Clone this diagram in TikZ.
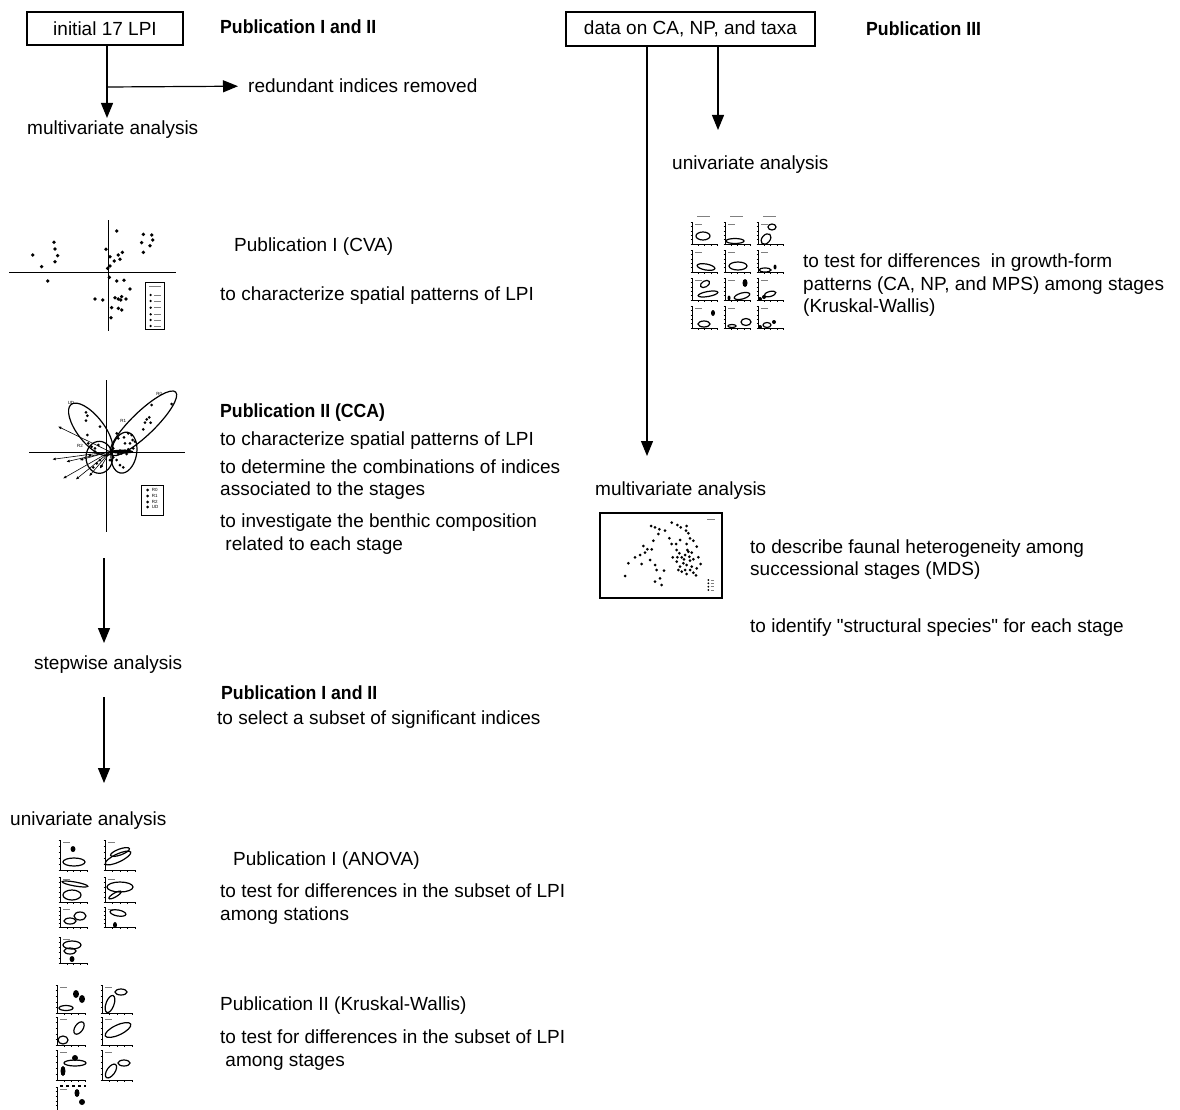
\documentclass[tikz,border=0pt]{standalone}
\usepackage{fontspec}
\usepackage{graphicx}
\setmainfont{Liberation Sans}[Ligatures=TeXOff]
\usetikzlibrary{arrows.meta}
\newcommand\mplot[4]{%
  \draw[line width=0.8pt] (#1,#2) -- (#1,#2+#4) -- (#1+#3,#2+#4);
  \foreach \k in {0,1,2,3,4,5} {\draw[line width=0.5pt] (#1-1.5,#2+\k*#4/5) -- (#1,#2+\k*#4/5);}
  \foreach \k in {1,2,3,4} {\draw[line width=0.5pt] (#1+\k*#3/4,#2+#4) -- (#1+\k*#3/4,#2+#4+1.5);}
  \draw[gray,line width=0.6pt] (#1+3,#2+2) -- (#1+10,#2+2);
}
\newcommand\blob[5]{\draw[line width=1.2pt,rotate around={#5:(#1,#2)}] (#1,#2) ellipse [x radius=#3, y radius=#4];}
\newcommand\dotb[4]{\fill (#1,#2) ellipse [x radius=#3, y radius=#4];}
\begin{document}
\begin{tikzpicture}[x=1pt,y=-1pt,
  tx/.style={anchor=base west,inner sep=0pt,font=\fontsize{19}{22.5}\selectfont},
  pb/.style={anchor=base west,inner sep=0pt,font=\fontsize{19}{22.5}\selectfont\bfseries},
  boxn/.style={draw,line width=1.1pt,inner sep=0pt,font=\fontsize{19}{22.5}\selectfont},
  flow/.style={line width=1.2pt,-{Triangle[length=15pt,width=12pt]}},
  ax/.style={line width=1pt},
  thin/.style={line width=0.6pt}
]
\useasboundingbox[fill=white] (0,0) rectangle (1180,1110);

% ---------------- left column ----------------
\node[boxn,minimum width=156pt,minimum height=33pt] (initA) at (105,28.5) {initial 17 LPI};
\node[pb] (pubA) at (220,34) {\scalebox{0.93}[1]{Publication I and II}};
\node[tx] (redund) at (248,93) {redundant indices removed};
\node[tx] (multiA) at (27,135) {multivariate analysis};
\coordinate (j1) at (107,87);
\coordinate (m1top) at (107,118);
\draw[flow] (initA.south -| j1) -- (m1top);
\draw[flow] (j1) -- ([xshift=-10pt]redund.west);

% CVA plot
\begin{scope}[shift={(0,220)},x=0.33333pt,y=-0.33333pt]
  \draw[ax] (28,157) -- (527,157);
  \draw[ax] (325,0) -- (325,332);
  \foreach \p in {(350,33),(430,43),(455,45),(458,60),(425,68),(450,77),(430,97),
    (162,67),(165,87),(173,107),(98,105),(165,125),(125,140),(143,183),
    (318,88),(330,110),(355,105),(367,97),(360,118),(343,123),(330,138),(323,145),
    (328,172),(350,183),(372,181),(390,207),(285,237),(308,240),(345,233),(355,237),
    (365,230),(378,237),(362,240),(335,263),(355,265),(365,270),(333,293)}
    \fill \p circle (1.9pt);
  \draw[line width=1pt] (437,187) rectangle (494,330);
  \draw[gray,line width=0.7pt] (447,198) -- (484,198);
  \foreach \yy in {225,243,263,283,300,318} {
    \fill (452,\yy) circle (1.3pt);
    \draw[gray,line width=0.6pt] (462,\yy) -- (482,\yy);
  }
\end{scope}
\node[tx] (cva) at (234,251) {Publication I (CVA)};
\node[tx] (cvaT) at (220,300) {to characterize spatial patterns of LPI};

% CCA plot
\begin{scope}[shift={(0,380)},x=0.33333pt,y=-0.33333pt]
  \draw[ax] (320,0) -- (320,455);
  \draw[ax] (88,218) -- (555,218);
  \blob{430}{130}{135}{35}{44}
  \blob{272}{148}{95}{40}{-52}
  \blob{372}{218}{38}{62}{-10}
  \blob{298}{232}{40}{48}{0}
  \foreach \t in {(175,140),(158,238),(200,245),(190,295),(228,298),(268,288),(300,265),(240,240)}
    \draw[thin,-{Triangle[length=3pt,width=2.5pt]}] (330,215) -- \t;
  \foreach \p in {(455,75),(515,72),(440,118),(452,128),(435,128),(430,148),(448,112),
    (258,97),(262,107),(258,122),(300,140),(262,165),
    (350,160),(355,175),(372,172),(385,160),(395,165),(398,180),(405,185),(390,190),(375,190),
    (400,205),(392,215),(380,222),(365,220),(355,222),(345,215),(340,205),(350,240),(360,255),
    (370,262),(340,232),(330,240),(265,190),(275,200),(285,205),(295,195),(285,215),(270,225),
    (300,240),(290,250),(305,258),(280,262),(375,212),(385,208),(360,212)}
    \fill \p circle (1.5pt);
  \fill (365,215) ellipse [x radius=35, y radius=6];
  \node[font=\fontsize{4.5}{5}\selectfont,inner sep=0pt] (lR0) at (478,43) {R0};
  \node[font=\fontsize{4.5}{5}\selectfont,inner sep=0pt] (lUD) at (213,70) {UD};
  \node[font=\fontsize{4.5}{5}\selectfont,inner sep=0pt] (lR1) at (370,122) {R1};
  \node[font=\fontsize{4.5}{5}\selectfont,inner sep=0pt] (lR2) at (240,198) {R2};
  \draw[line width=1pt] (425,315) rectangle (490,405);
  \fill (443,330) circle (1.5pt); \fill (443,348) circle (1.5pt);
  \fill (443,366) circle (1.5pt); \fill (443,381) circle (1.5pt);
  \node[font=\fontsize{4.5}{5}\selectfont,inner sep=0pt,anchor=west] (gR0) at (455,330) {R0};
  \node[font=\fontsize{4.5}{5}\selectfont,inner sep=0pt,anchor=west] (gR1) at (455,348) {R1};
  \node[font=\fontsize{4.5}{5}\selectfont,inner sep=0pt,anchor=west] (gR2) at (455,366) {R2};
  \node[font=\fontsize{4.5}{5}\selectfont,inner sep=0pt,anchor=west] (gUD) at (455,381) {UD};
\end{scope}
\node[pb] (cca) at (220,417) {\scalebox{0.93}[1]{Publication II (CCA)}};
\node[tx] (ccaT1) at (220,445) {to characterize spatial patterns of LPI};
\node[tx] (ccaT2) at (220,473) {to determine the combinations of indices};
\node[tx] (ccaT3) at (220,495) {associated to the stages};
\node[tx] (ccaT4) at (220,527) {to investigate the benthic composition};
\node[tx] (ccaT5) at (220,550) {\ related to each stage};

\coordinate (s1a) at (104,558);
\coordinate (s1b) at (104,643);
\draw[flow] (s1a) -- (s1b);
\node[tx] (step) at (34,669) {stepwise analysis};
\node[pb] (pubB) at (221,699) {\scalebox{0.93}[1]{Publication I and II}};
\node[tx] (stepT) at (217,724) {to select a subset of significant indices};
\coordinate (s2a) at (104,697);
\coordinate (s2b) at (104,783);
\draw[flow] (s2a) -- (s2b);
\node[tx] (uniL) at (10,825) {univariate analysis};

% ANOVA plots
\mplot{60}{840}{27}{30}  \mplot{105}{840}{30}{30}
\mplot{60}{877}{27}{25}  \mplot{105}{877}{30}{25}
\mplot{60}{907}{27}{20}  \mplot{105}{907}{30}{20}
\mplot{60}{937}{27}{26}
\dotb{73}{849}{2.5}{3}  \blob{74}{862}{11}{4}{0}
\blob{118}{858}{14}{4}{25} \blob{120}{852}{10}{3}{20}
\blob{72}{895}{9}{5}{0} \blob{75}{884}{13}{2}{-10}
\blob{120}{887}{13}{5}{0} \blob{115}{895}{7}{2}{30}
\blob{70}{921}{6}{3}{0} \blob{80}{916}{6}{4}{0}
\blob{118}{913}{8}{3}{-10} \dotb{115}{925}{2}{3}
\blob{72}{945}{9}{4}{0} \blob{70}{951}{6}{3}{0} \dotb{72}{959}{2.5}{3}
\node[tx] (anova) at (233,865) {Publication I (ANOVA)};
\node[tx] (anT1) at (220,897) {to test for differences in the subset of LPI};
\node[tx] (anT2) at (220,920) {among stations};

% Kruskal-Wallis plots
\mplot{57}{985}{28}{28}  \mplot{102}{985}{30}{28}
\mplot{57}{1017}{28}{28} \mplot{102}{1017}{30}{28}
\mplot{57}{1050}{28}{30} \mplot{102}{1050}{30}{30}
\mplot{57}{1087}{28}{23}
\blob{66}{1008}{7}{2.5}{0} \dotb{76}{994}{3}{4} \dotb{82}{999}{3}{4}
\blob{110}{1004}{4}{9}{-20} \blob{121}{992}{6}{3}{0}
\blob{63}{1040}{5}{4}{0} \blob{79}{1028}{4}{7}{-35}
\blob{118}{1030}{14}{5}{25}
\dotb{63}{1071}{2.5}{5} \blob{75}{1063}{11}{3}{0} \dotb{75}{1058}{3}{3}
\blob{111}{1071}{4}{8}{-35} \blob{124}{1063}{6}{3}{0}
\dotb{77}{1093}{2.5}{4} \dotb{82}{1102}{3}{3}
\draw[line width=1.6pt,dash pattern=on 3pt off 3pt] (60,1086) -- (86,1086);
\node[tx] (kw) at (220,1010) {Publication II (Kruskal-Wallis)};
\node[tx] (kwT1) at (220,1043) {to test for differences in the subset of LPI};
\node[tx] (kwT2) at (220,1066) {\ among stages};

% ---------------- right column ----------------
\node[boxn,minimum width=249pt,minimum height=34pt] (initB) at (690.5,29) {data on CA, NP, and taxa};
\node[pb] (pubC) at (866,36) {\scalebox{0.93}[1]{Publication III}};
\coordinate (rL) at (647,456);
\coordinate (rU) at (718,130);
\draw[flow] (initB.south -| rL) -- (rL);
\draw[flow] (initB.south -| rU) -- (rU);
\node[tx] (uniR) at (672,170) {univariate analysis};

% growth-form plot grid
\foreach \cx in {692,725,758} {
  \draw[gray,line width=0.6pt] (\cx+5,216) -- (\cx+18,216);
  \foreach \ry in {222,250,278,306} { \mplot{\cx}{\ry}{25}{22} }
}
\blob{703}{236}{7}{4}{0} \blob{735}{241}{9}{2.5}{0} \blob{766}{239}{4}{6}{-40} \blob{772}{227}{4}{3}{0}
\blob{706}{267}{9}{3}{-10} \blob{738}{266}{9}{4}{0} \blob{765}{270}{6}{2}{0} \dotb{775}{267}{1.5}{2.5}
\blob{705}{284}{5}{3}{30} \blob{708}{294}{10}{2.5}{10} \dotb{745}{283}{2.5}{4} \blob{742}{296}{8}{3}{15}
\dotb{729}{298}{1.5}{2.5} \blob{770}{294}{6}{2.5}{15} \dotb{760}{299}{2}{2} \dotb{764}{297}{2}{2}
\blob{704}{324}{6}{3}{0} \dotb{713}{313}{2}{3} \blob{746}{322}{5}{3.5}{0} \blob{732}{326}{4}{1.5}{0}
\blob{767}{325}{4}{2.5}{0} \dotb{774}{322}{2}{2} \dotb{760}{327}{2}{2}
\node[tx] (grT1) at (803,267) {to test for differences~ in growth-form};
\node[tx] (grT2) at (803,290) {patterns (CA, NP, and MPS) among stages};
\node[tx] (grT3) at (803,312) {(Kruskal-Wallis)};

\node[tx] (multiR) at (595,495) {multivariate analysis};
% MDS plot
\draw[line width=1.1pt] (600,513) rectangle (722,598);
\begin{scope}[shift={(590,470)},x=0.33333pt,y=-0.33333pt]
  \foreach \p in {(183,168),(195,172),(208,178),(225,182),(245,158),(262,165),(272,172),(290,168),
    (288,182),(295,190),(205,192),(190,212),(238,205),(245,222),(258,222),(270,210),(300,205),
    (310,212),(320,230),(290,222),(160,228),(172,238),(185,238),(165,248),(150,255),(135,262),
    (115,280),(105,318),(155,282),(180,270),(195,285),(200,300),(222,302),(210,325),(195,335),
    (215,345),(260,240),(268,250),(275,262),(285,255),(295,245),(298,260),(300,272),(310,268),
    (325,262),(332,282),(320,295),(305,290),(290,285),(280,280),(270,290),(265,300),(275,305),
    (285,300),(290,312),(300,300),(310,308),(318,316),(260,275),(262,262),(248,262),(292,240),
    (282,268),(305,248)}
    \fill \p circle (1.5pt);
  \foreach \yy in {330,340,350,360} {\fill (355,\yy) circle (1pt); \draw[gray,line width=0.4pt] (362,\yy) -- (372,\yy);}
  \draw[gray,line width=0.6pt] (352,148) -- (375,148);
\end{scope}
\node[tx] (mdsT1) at (750,553) {to describe faunal heterogeneity among};
\node[tx] (mdsT2) at (750,575) {successional stages (MDS)};
\node[tx] (mdsT3) at (750,632) {to identify "structural species" for each stage};
\end{tikzpicture}
\end{document}
